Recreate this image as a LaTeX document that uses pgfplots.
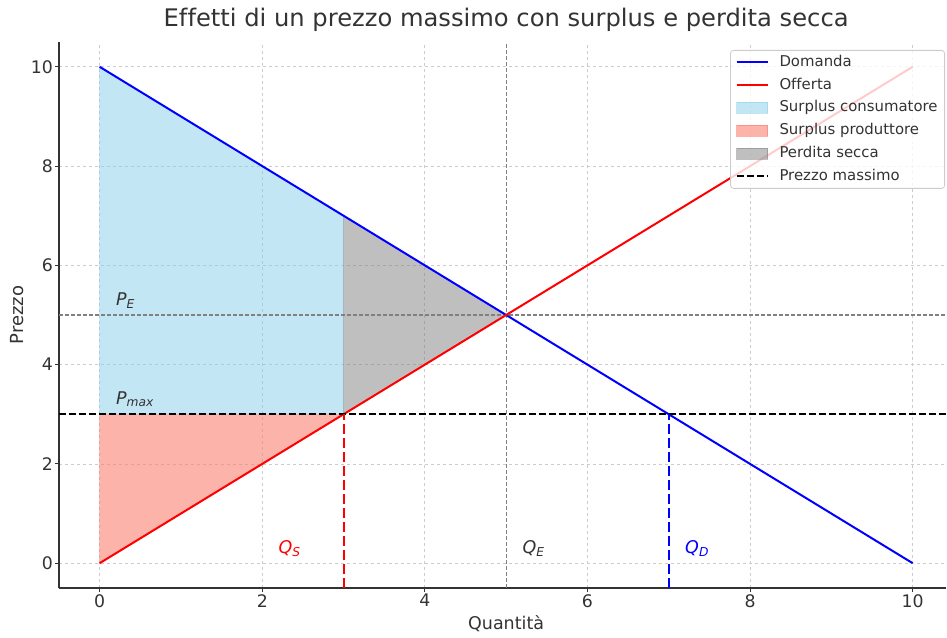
\documentclass[border=0pt]{standalone}
\usepackage{pgfplots}
\pgfplotsset{compat=1.18}
\usepackage{fontspec}
\setmainfont{DejaVu Sans}[Ligatures=NoCommon]
\definecolor{skyblue}{HTML}{87CEEB}
\definecolor{salmon}{HTML}{FA8072}
\definecolor{txt}{HTML}{333333}
\pgfplotsset{
 myline/.style={legend image code/.code={\draw[##1] (0pt,0pt) -- (31pt,0pt);}},
 myarea/.style={legend image code/.code={\draw[##1,sharp corners] (0pt,-5.5pt) rectangle (31pt,5.5pt);}},
}
\begin{document}
\begin{tikzpicture}
\begin{axis}[
 scale only axis, width=887pt, height=546pt,
 xmin=-0.5, xmax=10.41, ymin=-0.5, ymax=10.5,
 axis lines=left, axis line style={-, line width=1.2pt, color=txt},
 xtick={0,2,...,10}, ytick={0,2,...,10},
 tick align=outside, major tick length=4pt,
 tick style={line width=1pt, color=txt},
 ticklabel style={font=\fontsize{17.3}{20}\selectfont, color=txt},
 /pgf/number format/assume math mode=true,
 xticklabel style={inner sep=1pt, yshift=-1pt},
 yticklabel style={inner sep=1pt, xshift=-1pt},
 grid=major, grid style={dashed, color=black!20, line width=0.8pt},
 title={Effetti di un prezzo massimo con surplus e perdita secca},
 title style={at={(axis description cs:0.5041,1.0165)}, anchor=base, font=\fontsize{24.2}{28}\selectfont, color=txt},
 xlabel={Quantità}, ylabel={Prezzo},
 xlabel style={at={(axis description cs:0.5041,-0.0769)}, anchor=base, font=\fontsize{17.5}{20}\selectfont, color=txt},
 ylabel style={at={(axis description cs:-0.0405,0.5)}, anchor=base, font=\fontsize{18}{20}\selectfont, color=txt},
 legend cell align=left,
 legend style={at={(axis description cs:1,1)}, anchor=north east, xshift=-1pt, yshift=-8pt,
   draw=black!20, line width=0.8pt, rounded corners=3pt, fill=white, fill opacity=0.8, draw opacity=1, text opacity=1,
   font=\fontsize{14.9}{17}\selectfont, text=txt, row sep=4.8pt, inner xsep=5pt, inner ysep=3pt,
   nodes={text height=11pt, text depth=3pt, inner ysep=2pt},
   /tikz/every odd column/.append style={column sep=9pt}},
]
% areas
\addplot[fill=skyblue, fill opacity=0.5, draw=skyblue, draw opacity=0.5, forget plot] coordinates {(0,10) (3,7) (3,3) (0,3)} -- cycle;
\addplot[fill=salmon, fill opacity=0.6, draw=salmon, draw opacity=0.6, forget plot] coordinates {(0,0) (3,3) (0,3)} -- cycle;
\addplot[fill=gray, fill opacity=0.5, draw=gray, draw opacity=0.5, forget plot] coordinates {(3,7) (5,5) (3,3)} -- cycle;
% equilibrium guides
\addplot[gray, line width=1.1pt, dash pattern=on 4pt off 2pt, forget plot] coordinates {(5,-0.5) (5,10.5)};
\addplot[gray, line width=1.1pt, dash pattern=on 4pt off 2pt, forget plot] coordinates {(-0.5,5) (10.41,5)};
% curves
\addplot[myline, blue, line width=2pt] coordinates {(0,10) (10,0)};
\addlegendentry{Domanda}
\addplot[myline, red, line width=2pt] coordinates {(0,0) (10,10)};
\addlegendentry{Offerta}
\addlegendimage{myarea, fill=skyblue, fill opacity=0.5, draw=skyblue, draw opacity=0.5}
\addlegendentry{Surplus consumatore}
\addlegendimage{myarea, fill=salmon, fill opacity=0.6, draw=salmon, draw opacity=0.6}
\addlegendentry{Surplus produttore}
\addlegendimage{myarea, fill=gray, fill opacity=0.5, draw=gray, draw opacity=0.5}
\addlegendentry{Perdita secca}
\addplot[myline, black, line width=1.8pt, dash pattern=on 7pt off 3pt] coordinates {(-0.5,3) (10.41,3)};
\addlegendentry{Prezzo massimo}
% quantity markers
\addplot[red, line width=2pt, dash pattern=on 10pt off 4pt, forget plot] coordinates {(3,-0.5) (3,3)};
\addplot[blue, line width=2pt, dash pattern=on 10pt off 4pt, forget plot] coordinates {(7,-0.5) (7,3)};
% labels
\node[anchor=base west, inner sep=0pt, color=txt, font=\fontsize{17.5}{20}\selectfont] at (axis cs:0.2,5.2) {\textit{P}\textsubscript{\textit{E}}};
\node[anchor=base west, inner sep=0pt, color=txt, font=\fontsize{17.5}{20}\selectfont] at (axis cs:0.2,3.2) {\textit{P}\textsubscript{\textit{max}}};
\node[anchor=base west, inner sep=0pt, color=red, font=\fontsize{17.5}{20}\selectfont] at (axis cs:2.2,0.2) {\textit{Q}\textsubscript{\textit{S}}};
\node[anchor=base west, inner sep=0pt, color=txt, font=\fontsize{17.5}{20}\selectfont] at (axis cs:5.2,0.2) {\textit{Q}\textsubscript{\textit{E}}};
\node[anchor=base west, inner sep=0pt, color=blue, font=\fontsize{17.5}{20}\selectfont] at (axis cs:7.2,0.2) {\textit{Q}\textsubscript{\textit{D}}};
\end{axis}
\path (current axis.south west) ++(-59pt,-49pt) rectangle ++(947pt,637pt);
\end{tikzpicture}
\end{document}
